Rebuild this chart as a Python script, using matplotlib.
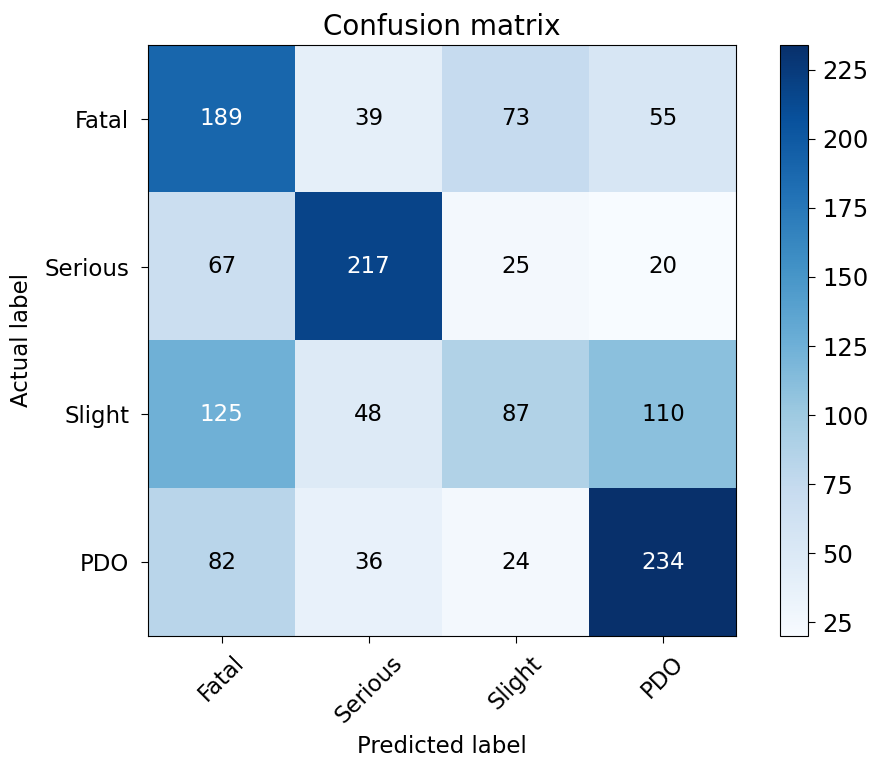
import numpy as np
import matplotlib
matplotlib.use("Agg")
import matplotlib.pyplot as plt

classes = ["Fatal", "Serious", "Slight", "PDO"]
cm = np.array([
    [189, 39, 73, 55],
    [67, 217, 25, 20],
    [125, 48, 87, 110],
    [82, 36, 24, 234],
])
cbar_ticks = [25, 50, 75, 100, 125, 150, 175, 200, 225]

plt.rcParams['font.size'] = 16.5
fig = plt.figure(figsize=(8.73, 7.6), dpi=100)
ax = fig.add_axes([0.1695, 0.163, 0.674, 0.778])
cax = fig.add_axes([0.893, 0.163, 0.033, 0.778])

im = ax.imshow(cm, interpolation='nearest', cmap=plt.cm.Blues, aspect='auto')
ax.set_title("Confusion matrix", fontsize=20, pad=7)
cb = fig.colorbar(im, cax=cax)
cb.set_ticks(cbar_ticks)
cax.tick_params(labelsize=17.5, length=5, pad=5)
ticks = np.arange(len(classes))
ax.set_xticks(ticks)
ax.set_xticklabels(classes, rotation=45)
ax.set_yticks(ticks)
ax.set_yticklabels(classes)
ax.tick_params(axis='y', length=5, pad=8.5)
ax.tick_params(axis='x', length=5, pad=6)
thresh = cm.max() / 2.0
for i in range(cm.shape[0]):
    for j in range(cm.shape[1]):
        ax.text(j, i, format(cm[i, j], 'd'), ha='center', va='center',
                fontsize=16.5,
                color='white' if cm[i, j] > thresh else 'black')
ax.set_ylabel("Actual label", labelpad=8)
ax.set_xlabel("Predicted label", labelpad=5.5)
fig.savefig("out.png", dpi=100)
